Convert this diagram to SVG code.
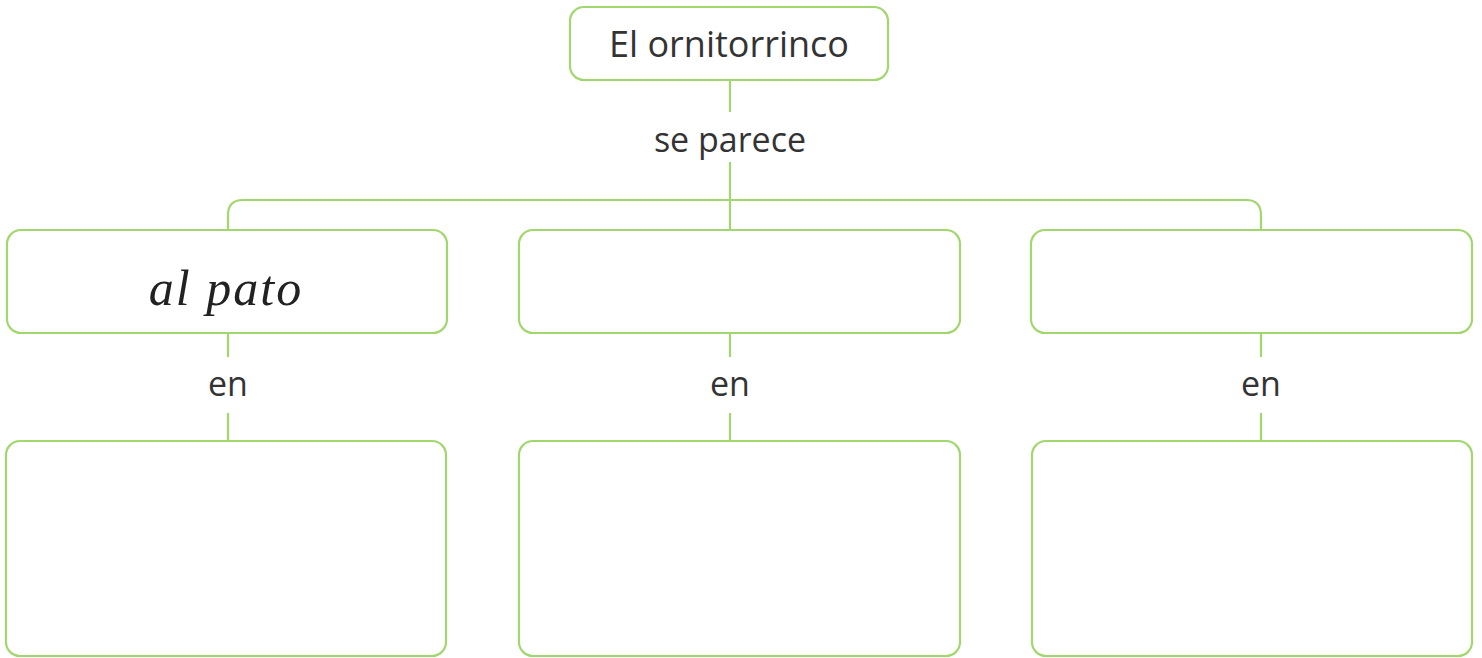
<svg xmlns="http://www.w3.org/2000/svg" width="1482" height="658" viewBox="0 0 1482 658">
<style>
.box{fill:#fff;stroke:#a2d66e;stroke-width:2.2}
.conn{fill:none;stroke:#a2d66e;stroke-width:2.2}
.lbl{font-family:"Open Sans","Liberation Sans",sans-serif;fill:#333;text-anchor:middle}
.hand{font-family:cursive;font-style:italic;fill:#222;text-anchor:middle}
</style>
<rect width="1482" height="658" fill="#fff"/>
<g id="connectors">
<path class="conn" d="M730 80 V112 M730 162 V230"/>
<path class="conn" d="M228 230 V215 Q228 200 243 200 H1246 Q1261 200 1261 215 V230"/>
<path class="conn" d="M228 333 V357 M228 413 V441"/>
<path class="conn" d="M730 333 V357 M730 413 V441"/>
<path class="conn" d="M1261 333 V357 M1261 413 V441"/>
</g>
<g id="lbl-parece"><text class="lbl" x="730" y="152" font-size="34">se parece</text></g>
<g id="lbl-en1"><text class="lbl" x="228" y="396" font-size="34">en</text></g>
<g id="lbl-en2"><text class="lbl" x="730" y="396" font-size="34">en</text></g>
<g id="lbl-en3"><text class="lbl" x="1261" y="396" font-size="34">en</text></g>
<g id="root"><rect class="box" x="570" y="7" width="318" height="73" rx="14"/><text class="lbl" x="729" y="57" font-size="36">El ornitorrinco</text></g>
<g id="n1"><rect class="box" x="7" y="230" width="440" height="103" rx="14"/><text class="hand" x="226" y="305" font-size="50" letter-spacing="2">al pato</text></g>
<g id="n2"><rect class="box" x="519" y="230" width="441" height="103" rx="14"/></g>
<g id="n3"><rect class="box" x="1031" y="230" width="441" height="103" rx="14"/></g>
<g id="n4"><rect class="box" x="6" y="441" width="440" height="215" rx="14"/></g>
<g id="n5"><rect class="box" x="519" y="441" width="441" height="215" rx="14"/></g>
<g id="n6"><rect class="box" x="1032" y="441" width="440" height="215" rx="14"/></g>
</svg>
